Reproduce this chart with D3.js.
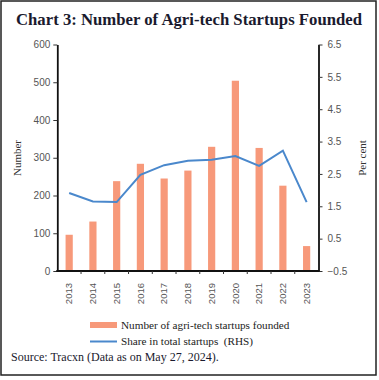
<!DOCTYPE html>
<html><head><meta charset="utf-8">
<script src="https://cdn.jsdelivr.net/npm/d3@7"></script>
<style>body{margin:0;background:#fff}</style>
</head><body><svg id="c" width="379" height="380"></svg>
<script>
const years = ["2013","2014","2015","2016","2017","2018","2019","2020","2021","2022","2023"];
const startups = [96,131,238,284,245,266,329,504,326,226,66];
const share = [1.91,1.65,1.63,2.47,2.77,2.91,2.94,3.05,2.75,3.22,1.63];
const leftTicks = [0,100,200,300,400,500,600];
const rightTicks = [-0.5,0.5,1.5,2.5,3.5,4.5,5.5,6.5];

const svg = d3.select("#c");
const serif = "'Liberation Serif','DejaVu Serif',serif";
const sans = "'Liberation Sans',Arial,sans-serif";

svg.append("rect").attr("x",1).attr("y",1).attr("width",375).attr("height",374)
  .attr("fill","none").attr("stroke","#222").attr("stroke-width",1.5);

svg.append("text").attr("x",189).attr("y",25).attr("text-anchor","middle")
  .attr("font-family",serif).attr("font-weight","bold").attr("font-size",16.5)
  .attr("fill","#1a1a2e").attr("textLength",346).attr("lengthAdjust","spacingAndGlyphs")
  .text("Chart 3: Number of Agri-tech Startups Founded");

const L=57.3, R=318.5, T=44.5, B=271;
const xb = d3.scaleBand().domain(years).range([L,R]);
const yL = d3.scaleLinear().domain([0,600]).range([B,T]);
const yR = d3.scaleLinear().domain([-0.5,6.5]).range([B,T]);

svg.append("g").selectAll("rect").data(startups).join("rect")
  .attr("x",(d,i)=>xb(years[i])+xb.bandwidth()/2-3.6).attr("width",7.2)
  .attr("y",d=>yL(d)).attr("height",d=>B-yL(d)).attr("fill","#F7997A");

const line = d3.line().x((d,i)=>xb(years[i])+xb.bandwidth()/2).y(d=>yR(d));
svg.append("path").datum(share).attr("d",line).attr("fill","none")
  .attr("stroke","#4A88CC").attr("stroke-width",2);

function styleAxis(g){
  g.selectAll(".domain").attr("stroke","#111").attr("stroke-width",1.8);
  g.selectAll(".tick line").attr("stroke","#333");
  g.selectAll(".tick text").attr("font-family",sans).attr("font-size",10).attr("fill","#555");
}
const gl = svg.append("g").attr("transform",`translate(${L},0)`)
  .call(d3.axisLeft(yL).tickValues(leftTicks).tickSize(4).tickSizeOuter(0).tickPadding(3));
styleAxis(gl);
const gr = svg.append("g").attr("transform",`translate(${R},0)`)
  .call(d3.axisRight(yR).tickValues(rightTicks).tickSize(4).tickSizeOuter(0).tickPadding(5).tickFormat(d3.format(".1f")));
styleAxis(gr);

// x axis
const gx = svg.append("g").attr("transform",`translate(0,${B})`);
gx.append("line").attr("x1",L-1).attr("x2",R+1).attr("stroke","#111").attr("stroke-width",1.8);
gx.selectAll("line.t").data(years.slice(1)).join("line").attr("class","t")
  .attr("x1",d=>xb(d)).attr("x2",d=>xb(d)).attr("y1",0).attr("y2",3).attr("stroke","#333");
gx.selectAll("text").data(years).join("text")
  .attr("transform",d=>`translate(${xb(d)+xb.bandwidth()/2+3.3},12) rotate(-90)`)
  .attr("text-anchor","end").attr("font-family",sans).attr("font-size",9.5).attr("fill","#555")
  .text(d=>d);

svg.append("text").attr("transform","translate(21,158) rotate(-90)").attr("text-anchor","middle")
  .attr("font-family",serif).attr("font-size",11).attr("fill","#333").text("Number");
svg.append("text").attr("transform","translate(366,158) rotate(-90)").attr("text-anchor","middle")
  .attr("font-family",serif).attr("font-size",11).attr("fill","#333").text("Per cent");

// legend
svg.append("rect").attr("x",90).attr("y",322).attr("width",27).attr("height",6).attr("fill","#F7997A");
svg.append("text").attr("x",121).attr("y",328.5).attr("font-family",serif).attr("font-size",11.2)
  .attr("fill","#222").text("Number of agri-tech startups founded");
svg.append("line").attr("x1",90).attr("x2",117).attr("y1",341.5).attr("y2",341.5)
  .attr("stroke","#4A88CC").attr("stroke-width",2);
svg.append("text").attr("x",121).attr("y",345).attr("font-family",serif).attr("font-size",11.2)
  .attr("fill","#222").attr("xml:space","preserve").text("Share in total startups  (RHS)");

svg.append("text").attr("x",11).attr("y",361).attr("font-family",serif).attr("font-size",12)
  .attr("fill","#1a1a2e").text("Source: Tracxn (Data as on May 27, 2024).");
</script></body></html>
